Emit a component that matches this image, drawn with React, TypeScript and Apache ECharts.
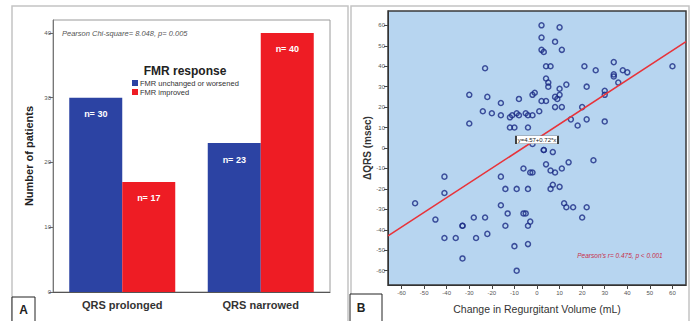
import React, { useEffect, useRef } from "react";
import * as echarts from "echarts";

const barCategories = ["QRS prolonged", "QRS narrowed"];
const seriesNames = ["FMR unchanged or worsened", "FMR improved"];
const unchangedCounts = [30, 23];
const improvedCounts = [17, 40];
const barYTicks = [0, 10, 20, 30, 40];

const deltaRV = [
  2, 10, 2, 8, 2, 3, 11, -23, 4, 6, 21, 26, 34, 34, 34, 38, 40, 36, 60,
  4, 5, 5, 13, 10, 22, 30, 30, -30, -22, -16, -8, -2, -1, 2, 4, 8, 9, 10, 8, 11,
  -24, 1, 20, -20, -16, -12, -11, -9, -8, -5, -4, -2, -30, -12, -10, -4,
  15, 18, 22, 30, -2, 3, 3, 7, 4, 6, 8, 11, 14, 25, -6, -3, -2, -16,
  -41, -41, -14, -9, -4, 6, 7, 10, -54, -16, 12, 13, 16, 22,
  -45, -33, -33, -28, -23, -13, -6, -5, -14, -3, -4, 20,
  -41, -36, -27, -22, -33, -10, -4, -9,
];
const deltaQRS = [
  60, 59, 54, 52, 48, 47, 48, 39, 40, 40, 40, 38, 42, 36, 35, 38, 37, 32, 40,
  34, 32, 30, 31, 29, 30, 28, 26, 26, 25, 22, 24, 26, 27, 23, 23, 25, 24, 26, 20, 20,
  18, 18, 20, 17, 16, 15, 16, 17, 16, 17, 16, 16, 12, 10, 10, 10,
  14, 11, 14, 13, 2, -1, -1, -2, -8, -11, -12, -10, -7, -6, -10, -12, -12, -14,
  -14, -22, -20, -20, -20, -20, -18, -19, -27, -28, -27, -29, -29, -29,
  -35, -38, -38, -34, -34, -32, -32, -32, -38, -36, -38, -34,
  -44, -44, -44, -42, -54, -48, -47, -60,
];
const regressionEnds = [
  [-66, -43],
  [66, 52],
];
const regressionLabelAt = [0, 4];
const scatterTicks = [-60, -50, -40, -30, -20, -10, 0, 10, 20, 30, 40, 50, 60];

export default function App() {
  const ref = useRef<HTMLDivElement>(null);
  useEffect(() => {
    if (!ref.current) return;
    const chart = echarts.init(ref.current, null, { renderer: "svg" });
    const font = 'Arial, "Liberation Sans", sans-serif';
    const scatterData = deltaRV.map((x, i) => [x, deltaQRS[i]]);
    const option: any = {
      animation: false,
      backgroundColor: "#ffffff",
      textStyle: { fontFamily: font },
      legend: {
        data: seriesNames,
        orient: "vertical",
        left: 132,
        top: 79,
        itemWidth: 6,
        itemHeight: 6,
        itemGap: 1,
        padding: 0,
        icon: "rect",
        textStyle: { fontSize: 7.5, color: "#333", padding: [0, 0, 0, -3] },
      },
      grid: [
        {
          left: 53, top: 20, width: 277, height: 272, show: true,
          backgroundColor: "#ffffff", borderColor: "#9a9a9a", borderWidth: 1,
        },
        {
          left: 388, top: 11, width: 298, height: 274, show: true,
          backgroundColor: "#b7d5f0", borderColor: "#3a3a3a", borderWidth: 1.5,
        },
      ],
      xAxis: [
        {
          type: "category", gridIndex: 0, data: barCategories,
          axisLine: { lineStyle: { color: "#555" } },
          axisTick: { alignWithLabel: true, length: 4, lineStyle: { color: "#555" } },
          axisLabel: { fontSize: 11, fontWeight: "bold", color: "#333", margin: 7 },
        },
        {
          type: "value", gridIndex: 1, min: -66, max: 66,
          name: "Change in Regurgitant Volume (mL)", nameLocation: "middle", nameGap: 18,
          nameTextStyle: { fontSize: 10.5, color: "#333" },
          axisLine: { onZero: false, lineStyle: { color: "#333" } },
          axisTick: { customValues: scatterTicks, length: 4, lineStyle: { color: "#444" } },
          axisLabel: { customValues: scatterTicks, fontSize: 6, color: "#555", margin: 5 },
          splitLine: { show: false },
        },
      ],
      yAxis: [
        {
          type: "value", gridIndex: 0, min: 0, max: 42,
          name: "Number of patients", nameLocation: "middle", nameGap: 19,
          nameTextStyle: { fontSize: 11, fontWeight: "bold", color: "#222" },
          axisLine: { show: true, lineStyle: { color: "#777" } },
          axisTick: { show: true, customValues: barYTicks, length: 4, lineStyle: { color: "#666" } },
          axisLabel: { customValues: barYTicks, fontSize: 6, color: "#555", margin: 2 },
          splitLine: { show: false },
        },
        {
          type: "value", gridIndex: 1, min: -67, max: 67,
          name: "ΔQRS (msec)", nameLocation: "middle", nameGap: 15,
          nameTextStyle: { fontSize: 10, fontWeight: "bold", color: "#333" },
          axisLine: { show: true, onZero: false, lineStyle: { color: "#333" } },
          axisTick: { show: true, customValues: scatterTicks, length: 4, lineStyle: { color: "#444" } },
          axisLabel: { customValues: scatterTicks, fontSize: 6, color: "#555", margin: 3 },
          splitLine: { show: false },
        },
      ],
      series: [
        {
          name: seriesNames[0], type: "bar", xAxisIndex: 0, yAxisIndex: 0,
          data: unchangedCounts, barWidth: 53, barGap: "0%",
          itemStyle: { color: "#2c43a3" },
          label: {
            show: true, position: "insideTop", distance: 12, formatter: "n= {c}",
            color: "#fff", fontSize: 9, fontWeight: "bold",
          },
        },
        {
          name: seriesNames[1], type: "bar", xAxisIndex: 0, yAxisIndex: 0,
          data: improvedCounts, barWidth: 53, barGap: "0%",
          itemStyle: { color: "#ee1c24" },
          label: {
            show: true, position: "insideTop", distance: 12, formatter: "n= {c}",
            color: "#fff", fontSize: 9, fontWeight: "bold",
          },
        },
        {
          name: "points", type: "scatter", xAxisIndex: 1, yAxisIndex: 1,
          data: scatterData, symbol: "circle", symbolSize: 5,
          itemStyle: { color: "rgba(0,0,0,0)", borderColor: "#1a2a85", borderWidth: 1.5 },
        },
        {
          name: "fit", type: "line", xAxisIndex: 1, yAxisIndex: 1,
          data: regressionEnds, showSymbol: false, symbol: "none",
          lineStyle: { color: "#e8333a", width: 1.6 },
          markPoint: {
            symbol: "rect", symbolSize: [42, 8],
            itemStyle: { color: "#ffffff", borderColor: "#333", borderWidth: 0.8 },
            label: { show: true, position: "inside", formatter: "y=4.57+0.72*x", fontSize: 6, color: "#222" },
            data: [{ coord: regressionLabelAt }],
          },
        },
      ],
      graphic: [
        { type: "rect", shape: { x: 12, y: 6, width: 336, height: 320 }, style: { fill: "none", stroke: "#c4c4c4", lineWidth: 1.5 } },
        { type: "rect", shape: { x: 351, y: 6, width: 338, height: 320 }, style: { fill: "none", stroke: "#c4c4c4", lineWidth: 1.5 } },
        { type: "rect", shape: { x: 12, y: 297, width: 23, height: 28 }, style: { fill: "#fff", stroke: "#222", lineWidth: 1 } },
        { type: "text", x: 23.5, y: 310, style: { text: "A", fontSize: 12, fontWeight: "bold", fill: "#222", align: "center", verticalAlign: "middle", fontFamily: font } },
        { type: "rect", shape: { x: 350, y: 294, width: 32, height: 30 }, style: { fill: "#fff", stroke: "#222", lineWidth: 1 } },
        { type: "text", x: 361, y: 308, style: { text: "B", fontSize: 12, fontWeight: "bold", fill: "#222", align: "center", verticalAlign: "middle", fontFamily: font } },
        { type: "text", x: 62, y: 33, style: { text: "Pearson Chi-square= 8.048, p= 0.005", fontSize: 7.5, fontStyle: "italic", fill: "#555", verticalAlign: "middle", fontFamily: font } },
        { type: "text", x: 185, y: 71, style: { text: "FMR response", fontSize: 12, fontWeight: "bold", fill: "#222", align: "center", verticalAlign: "middle", fontFamily: font } },
        { type: "text", x: 620, y: 255, style: { text: "Pearson's r= 0.475, p < 0.001", fontSize: 6.5, fontStyle: "italic", fill: "#c8304c", align: "center", verticalAlign: "middle", fontFamily: font } },
      ],
    };
    chart.setOption(option);
    return () => chart.dispose();
  }, []);
  return <div ref={ref} style={{ position: "fixed", left: 0, top: 0, width: 696, height: 321 }} />;
}
